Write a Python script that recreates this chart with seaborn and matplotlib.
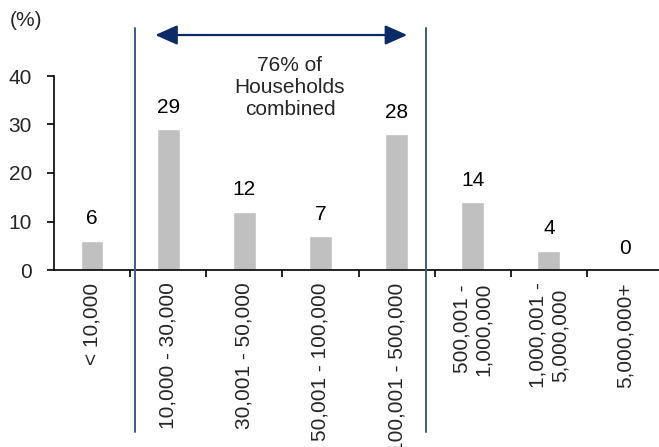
import matplotlib
matplotlib.use("Agg")
import matplotlib.pyplot as plt
import seaborn as sns

# Household distribution by income band (%)
categories = ["< 10,000", "10,000 - 30,000", "30,001 - 50,000", "50,001 - 100,000",
              "100,001 - 500,000", "500,001 -\n1,000,000", "1,000,001 -\n5,000,000", "5,000,000+"]
shares = [6, 29, 12, 7, 28, 14, 4, 0]
y_ticks = [0, 10, 20, 30, 40]
bracket_note = "76% of\nHouseholds\ncombined"

sns.set_theme(style="white")
plt.rcParams["font.family"] = ["Liberation Sans", "DejaVu Sans"]
plt.rcParams["font.size"] = 15

fig = plt.figure(figsize=(6.59, 4.47), dpi=100)
W, H = 659, 447
ax = fig.add_axes([54 / W, 177 / H, 609 / W, 194 / H])

sns.barplot(x=categories, y=shares, color="#C0C0C0", saturation=1, width=0.3, ax=ax)
ax.bar_label(ax.containers[0], fmt="%d", padding=9, fontsize=15, color="black")

ax.set_xlim(-0.5, 7.5)
ax.set_ylim(0, 40)
ax.set_yticks(y_ticks)
ax.set_xlabel("")
ax.set_ylabel("")

for side in ["top", "right"]:
    ax.spines[side].set_visible(False)
for side in ["left", "bottom"]:
    ax.spines[side].set_color("black")
    ax.spines[side].set_linewidth(1.2)

ax.tick_params(axis="y", which="major", direction="out", length=5, width=1.2,
               color="black", pad=11, labelsize=15, left=True)
# category labels sit under the bar centres; tick marks sit at the boundaries
ax.set_xticks(range(len(categories)))
ax.set_xticklabels(categories, rotation=90, ha="center", va="top",
                   multialignment="center", fontsize=15)
ax.tick_params(axis="x", which="major", length=0, pad=9)
ax.set_xticks([i + 0.5 for i in range(len(categories))], minor=True)
ax.tick_params(axis="x", which="minor", direction="out", length=5, width=1.2,
               color="black", bottom=True)

# bracket marking the 10,000 - 500,000 bands
line_col = "#3D5A92"
for xv in [0.564, 4.39]:
    ax.plot([xv, xv], [49.9, -33.4], color=line_col, lw=1.4, clip_on=False, zorder=5)

ax.annotate("", xy=(0.83, 48.45), xytext=(4.14, 48.45),
            arrowprops=dict(arrowstyle="<|-|>,head_length=0.9,head_width=0.4",
                            color="#0B2A66", lw=1.6, shrinkA=0, shrinkB=0),
            annotation_clip=False)
ax.text(2.6, 37.7, bracket_note, ha="center", va="center", fontsize=15,
        linespacing=1.2, multialignment="center")

fig.text(26 / W, 1 - 20 / H, "(%)", ha="center", va="center", fontsize=15)

fig.savefig("out.png", dpi=100, facecolor="white")
